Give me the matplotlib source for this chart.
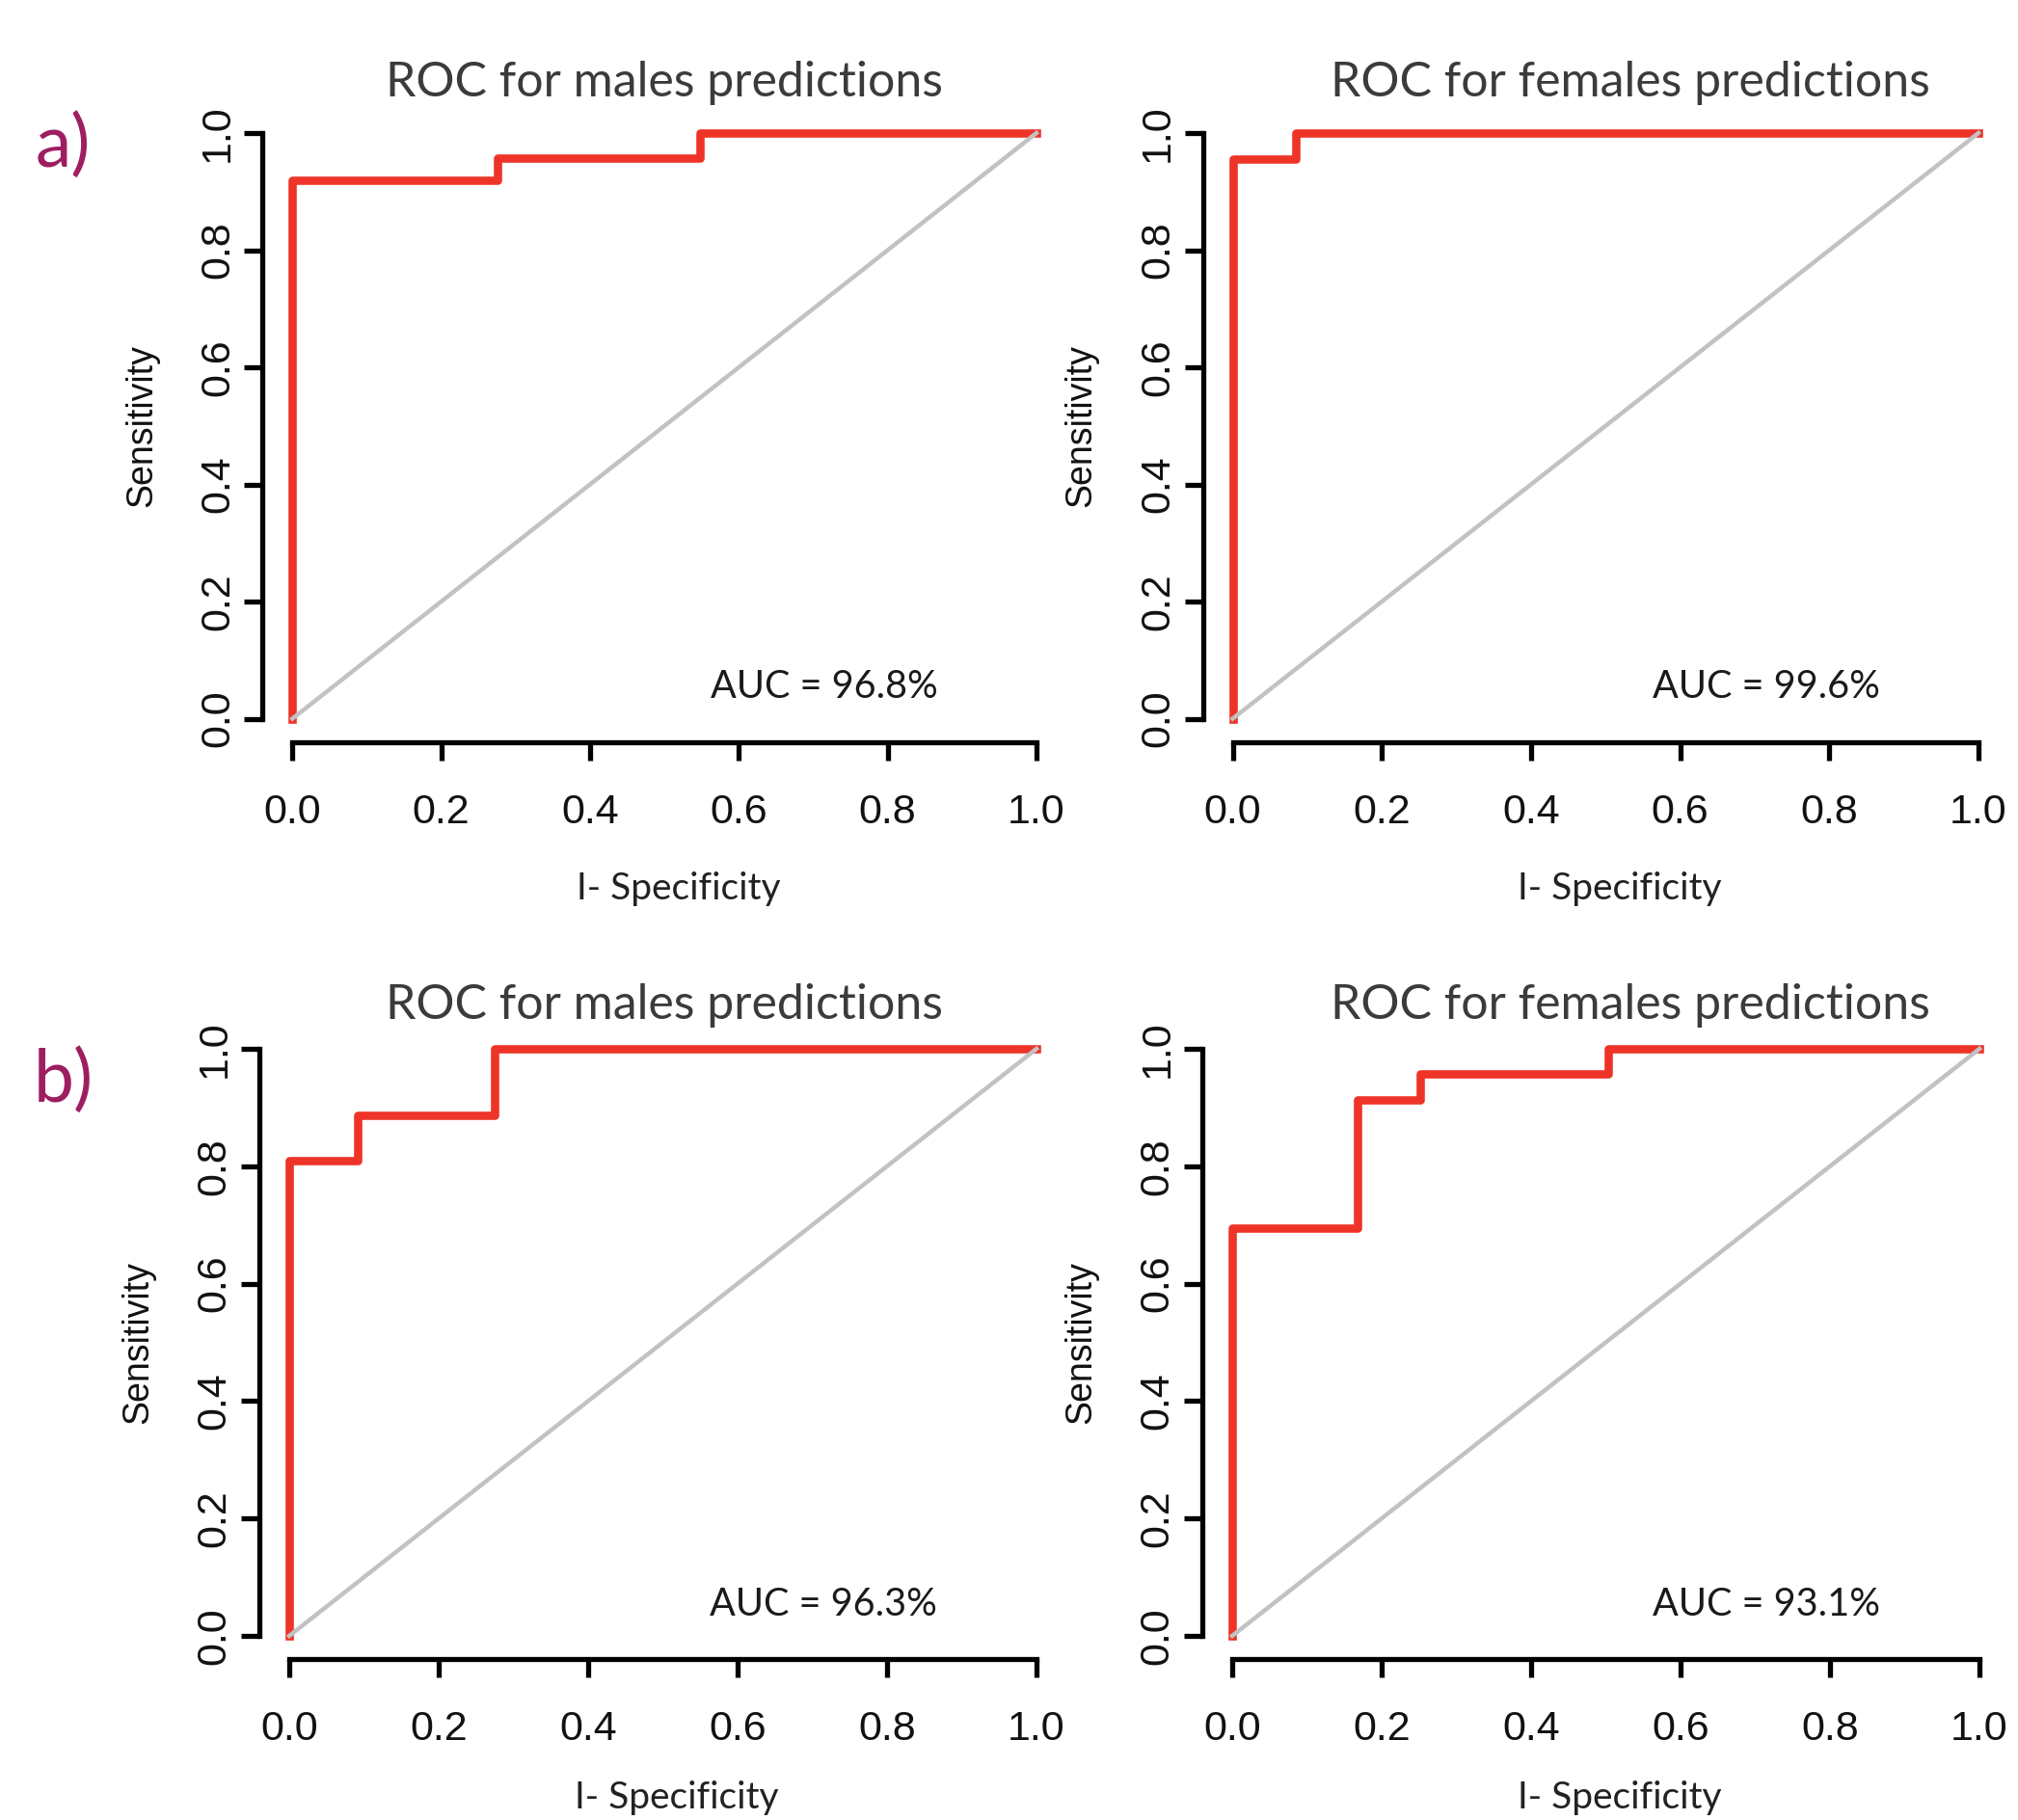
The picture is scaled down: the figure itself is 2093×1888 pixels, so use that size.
import numpy as np
import matplotlib
matplotlib.use('Agg')
import matplotlib.pyplot as plt

# ROC curves (1 - specificity, sensitivity)
fpr_males_a = [0.0, 0.0, 0.275, 0.275, 0.548, 0.548, 1.0]
tpr_males_a = [0.0, 0.92, 0.92, 0.958, 0.958, 1.0, 1.0]

fpr_females_a = [0.0, 0.0, 0.085, 0.085, 1.0]
tpr_females_a = [0.0, 0.955, 0.955, 1.0, 1.0]

fpr_males_b = [0.0, 0.0, 0.092, 0.092, 0.275, 0.275, 1.0]
tpr_males_b = [0.0, 0.81, 0.81, 0.887, 0.887, 1.0, 1.0]

fpr_females_b = [0.0, 0.0, 0.168, 0.168, 0.252, 0.252, 0.503, 0.503, 1.0]
tpr_females_b = [0.0, 0.695, 0.695, 0.913, 0.913, 0.957, 0.957, 1.0, 1.0]

titles = ['ROC for males predictions', 'ROC for females predictions',
          'ROC for males predictions', 'ROC for females predictions']
auc_labels = ['AUC = 96.8%', 'AUC = 99.6%', 'AUC = 96.3%', 'AUC = 93.1%']
row_labels = ['a)', 'b)']
ticks = [0.0, 0.2, 0.4, 0.6, 0.8, 1.0]
tick_labels = ['%.1f' % t for t in ticks]

W, H = 2093, 1888
RED = '#EE3428'
GREY = '#c2c2c2'
GILL = ['Lato', 'DejaVu Sans']
ARIAL = ['Liberation Sans', 'DejaVu Sans']


def rect(x0, x1, y1, y0):
    # pixel positions of data 0 and 1 -> axes box with R style 4% padding
    ux = x1 - x0
    uy = y0 - y1
    left = x0 - 0.04 * ux
    right = x1 + 0.04 * ux
    top = y1 - 0.04 * uy
    bottom = y0 + 0.04 * uy
    return [left / W, 1 - bottom / H, (right - left) / W, (bottom - top) / H]


fig = plt.figure(figsize=(W / 100, H / 100), dpi=100)

boxes = [rect(303.3, 1075, 138, 745.5), rect(1278.5, 2052, 138, 745.5),
         rect(300, 1075, 1088, 1697), rect(1278, 2053, 1088, 1697)]
curves = [(fpr_males_a, tpr_males_a), (fpr_females_a, tpr_females_a),
          (fpr_males_b, tpr_males_b), (fpr_females_b, tpr_females_b)]
title_pos = [(689.5, 100), (1691, 100), (689.5, 1057), (1691, 1057)]
xlabel_y = [-0.309, -0.309, -0.294, -0.294]

for i in range(4):
    ax = fig.add_axes(boxes[i])
    fpr, tpr = curves[i]
    ax.plot(fpr, tpr, color=RED, lw=6.2, zorder=2)
    ax.plot([0, 1], [0, 1], color=GREY, lw=3.2, zorder=3)
    ax.set_xlim(-0.04, 1.04)
    ax.set_ylim(-0.04, 1.04)
    for s in ['top', 'right']:
        ax.spines[s].set_visible(False)
    for s in ['left', 'bottom']:
        ax.spines[s].set_linewidth(3.8)
        ax.spines[s].set_bounds(0, 1)
    ax.set_xticks(ticks)
    ax.set_yticks(ticks)
    ax.set_xticklabels(tick_labels, family=ARIAL, fontsize=31, color='#111111')
    ax.set_yticklabels(tick_labels, family=ARIAL, fontsize=31, color='#111111',
                       rotation=90, va='center')
    ax.tick_params(axis='both', length=14, width=3.8)
    ax.tick_params(axis='x', pad=24)
    ax.tick_params(axis='y', pad=5)
    ax.set_ylabel('Sensitivity', family=ARIAL, fontsize=27, color='#111111')
    ax.yaxis.set_label_coords(-0.129, 0.5)

    ax.text(0.715, 0.035, auc_labels[i], ha='center', va='baseline',
            family=GILL, fontsize=28.5, color='#1a1a1a')
    ax.text(0.519, xlabel_y[i], 'I- Specificity', ha='center', va='baseline',
            family=GILL, fontsize=28, color='#222222', clip_on=False)

    cx, by = title_pos[i]
    fig.text(cx / W, 1 - by / H, titles[i], ha='center', va='baseline',
             family=GILL, fontsize=36, color='#3b3b3b')

# row letters
fig.text(37 / W, 1 - 173 / H, row_labels[0], ha='left', va='baseline',
         family=GILL, fontsize=54, color='#9E1E62')
fig.text(35 / W, 1 - 1143 / H, row_labels[1], ha='left', va='baseline',
         family=GILL, fontsize=54, color='#9E1E62')

fig.savefig('out.png', dpi=100)
